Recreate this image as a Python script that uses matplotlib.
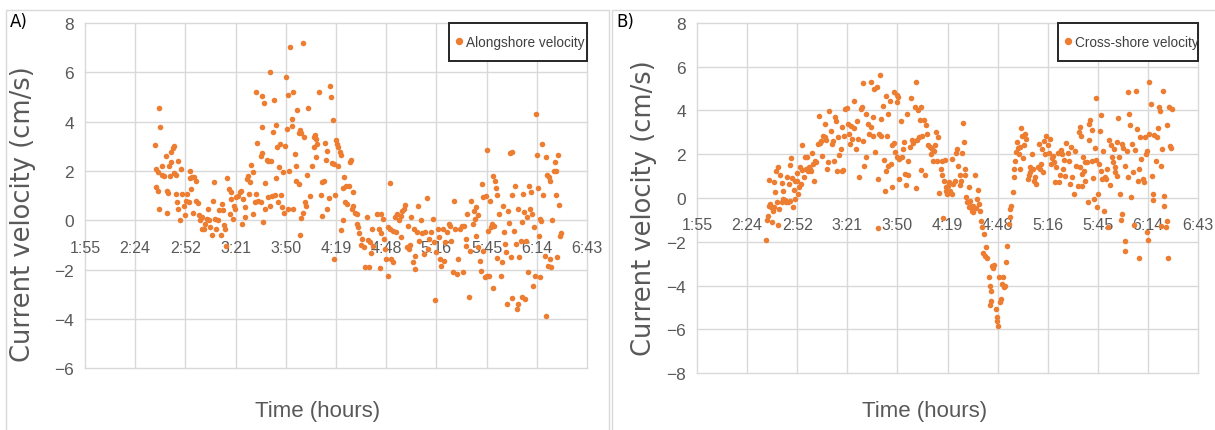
import matplotlib
matplotlib.use('Agg')
import matplotlib.pyplot as plt
from matplotlib.patches import Rectangle

# Time axis in minutes after midnight (Excel ticks every 0.02 day)
time_ticks = [115.2, 144.0, 172.8, 201.6, 230.4, 259.2, 288.0, 316.8, 345.6, 374.4, 403.2]
time_labels = ['1:55', '2:24', '2:52', '3:21', '3:50', '4:19', '4:48', '5:16', '5:45', '6:14', '6:43']
along_yticks = [-6, -4, -2, 0, 2, 4, 6, 8]
cross_yticks = [-8, -6, -4, -2, 0, 2, 4, 6, 8]

# A) alongshore velocity (minutes, cm/s)
along_time = [
    157.4, 158.5, 155.1, 155.9, 156.8, 159.3, 159.5, 160.6, 161.4, 163.3,
    164.3, 165.6, 166.4, 164.8, 164.0, 166.1, 167.3, 168.6, 170.1, 156.0,
    157.0, 157.9, 162.5, 162.9, 162.5, 167.3, 168.0, 168.4, 169.5, 171.1,
    171.9, 172.8, 173.2, 173.8, 174.6, 175.3, 175.7, 176.8, 177.8, 178.7,
    176.0, 177.2, 178.7, 179.9, 180.6, 181.4, 182.2, 182.5, 183.5, 184.2,
    185.0, 185.6, 186.5, 187.1, 187.9, 188.8, 189.4, 190.0, 190.4, 191.5,
    192.3, 193.0, 193.8, 194.4, 195.1, 195.5, 196.1, 196.8, 197.8, 198.7,
    198.4, 199.1, 200.1, 200.6, 201.4, 202.0, 203.0, 203.9, 204.8, 205.0,
    206.0, 207.1, 206.8, 207.9, 208.9, 209.1, 209.9, 211.6, 213.1, 214.0,
    212.5, 211.6, 213.5, 210.6, 214.4,
    216.9, 216.5, 216.0, 216.7, 218.0, 221.2, 223.5, 223.1, 225.0, 225.6,
    226.8, 226.4, 224.5, 220.3, 219.5, 221.8, 218.7, 220.3, 222.6, 224.0,
    221.2, 218.4, 217.5, 216.1, 227.6, 226.1, 228.0, 229.0, 229.5, 230.2,
    231.0, 230.4, 231.7, 232.9, 234.8, 233.7, 234.1, 232.5, 231.4, 234.8,
    235.5, 236.5, 236.0, 237.7, 236.9, 237.7, 238.7, 239.4, 240.3, 240.9,
    238.4, 241.3, 241.9, 240.5, 239.4, 242.8, 243.4, 244.2, 245.2, 246.3,
    247.0, 247.8, 248.2, 246.8, 247.7, 249.3, 250.4, 251.4, 252.2, 251.4,
    253.1, 254.0, 253.3, 254.3, 255.4, 255.9, 256.5, 257.3, 257.1, 258.0,
    258.8, 258.0, 259.3, 259.9, 260.4, 261.3, 260.6, 261.8, 262.3, 263.1,
    263.7, 263.3, 265.0, 264.4, 265.6, 266.9, 267.3, 267.8, 269.0, 269.2,
    268.2, 269.9, 271.1, 271.5, 271.9, 272.3, 273.4, 274.2, 275.1, 275.7,
    276.9, 277.3, 278.2,
    279.7, 278.9, 279.3, 280.5, 282.8, 284.0, 284.9, 285.2, 284.7, 286.3,
    286.6, 287.4, 287.8, 289.2, 290.1, 289.0, 289.9, 290.9, 292.1, 291.7,
    293.0, 293.8, 294.4, 295.5, 296.3, 297.1, 298.0, 298.8, 296.7, 300.2,
    301.0, 301.8, 300.4, 302.5, 303.3, 304.5, 304.0, 304.8, 305.6, 306.4,
    306.9, 307.9, 308.7, 309.5, 310.2, 311.2, 311.8, 312.5, 313.5, 314.7,
    315.3, 315.8, 316.8, 317.6, 318.3, 319.1, 319.5, 320.3, 321.1, 321.9,
    322.8, 323.8, 324.8, 325.3, 326.1, 326.7, 327.3, 328.5, 329.4, 330.2,
    331.2, 331.9, 332.7, 333.5, 334.4, 334.0, 335.7, 336.3, 336.9, 337.7,
    338.5,
    339.3, 338.9, 340.6, 339.8, 340.8, 341.8, 342.2, 343.3, 342.9, 343.7,
    344.5, 345.2, 346.0, 345.6, 346.8, 346.6, 347.5, 347.9, 348.7, 349.1,
    349.4, 350.2, 349.8, 351.0, 351.7, 351.4, 352.9, 353.7, 354.4, 354.8,
    355.8, 356.2, 356.7, 357.7, 358.4, 359.0, 360.2, 359.4, 359.9, 357.5,
    360.0, 361.7, 361.3, 362.3, 362.9, 363.8, 363.4, 364.4, 365.2, 365.8,
    366.3, 365.9, 367.1, 367.7, 368.3, 369.0, 369.6, 370.0, 370.6, 371.3,
    371.7, 372.5, 373.0, 374.0, 374.4, 375.0, 375.4, 373.6, 376.3, 376.3,
    376.9, 377.5, 378.2, 379.0, 379.8, 379.6, 380.5, 381.3, 381.7, 381.1,
    382.1, 382.8, 383.2, 384.0, 384.6, 385.2, 385.6, 386.2, 386.6, 387.3,
    387.5, 388.5,
]
along_vel = [
    4.55, 3.8, 3.05, 2.08, 1.95, 2.2, 1.85, 1.8, 2.6, 2.2,
    2.35, 2.95, 3.0, 2.75, 1.8, 1.9, 1.85, 2.4, 2.1, 1.35,
    1.2, 0.45, 1.2, 1.1, 0.3, 1.08, 0.73, 0.45, 0.03, 1.05,
    0.6, 0.2, 0.8, 1.05, 0.73, 1.7, 2.0, 1.75, 1.75, 1.6,
    1.27, 0.3, 0.8, 0.7, 0.22, 0.0, 0.12, -0.35, -0.35, -0.15,
    0.05, 0.45, 0.0, -0.28, -0.58, 0.8, 1.55, 0.05, -0.35, 0.0,
    0.4, -0.58, 0.66, 0.4, -0.2, -0.35, -1.05, 1.7, 1.27, 1.15,
    0.26, 0.86, 0.05, 0.6, 0.45, 0.93, 1.0, 1.13, 1.2, -0.15,
    0.86, 0.53, 0.12, 1.68, 1.8, 1.07, 1.55, 1.95, 5.2, 3.13,
    0.73, 0.26, 1.05, 2.25, 0.8,
    3.8, 2.73, 2.6, 5.05, 4.75, 6.0, 4.88, 3.6, 3.88, 2.96,
    3.1, 2.15, 1.72, 2.42, 2.46, 2.4, 1.5, 0.93, 1.0, 1.04,
    0.6, 0.46, -0.05, 0.73, 1.04, 0.73, 0.53, 1.95, 0.28, 3.03,
    3.7, 5.82, 5.08, 7.04, 5.22, 3.84, 4.1, 2.0, 0.46, 0.46,
    2.7, 2.2, 1.6, 1.47, 4.49, 3.53, 3.66, 3.54, 7.17, 3.36,
    -0.6, 0.73, 0.57, 0.28, 0.1, 1.85, 4.57, 1.0, 2.2, 3.36,
    3.46, 3.3, 3.1, 2.96, 2.58, 5.22, 1.03, 1.54, 1.6, 0.16,
    3.12, 0.46, 2.45, 2.82, 0.9, 5.43, 5.0, 4.07, 2.32, 2.28,
    1.04, -1.57, 3.26, 3.1, 2.96, 2.76, 2.2, 2.65, -0.4, 0.03,
    1.74, 1.3, 1.4, 0.73, 0.66, 1.4, 2.35, 2.46, 1.14, 0.6,
    0.46, 0.28, -0.15, 0.26, -0.28, -0.51, -1.0, -0.76, -1.1, -1.9,
    0.12, -0.78, -1.9,
    -0.35, -0.86, -1.32, -1.03, 0.26, -0.35, 0.26, -0.51, -1.95, 0.05,
    -0.76, -1.16, -1.57, -2.24, 1.51, -0.28, -0.35, -1.57, -1.7, -0.42,
    0.12, -0.49, 0.26, 0.0, 0.19, 0.39, 0.46, 0.62, -0.69, -1.1,
    -1.16, -1.0, -0.24, 0.15, -1.7, -1.97, -0.35, -1.43, -0.49, 0.6,
    -0.82, 0.03, -0.51, -1.36, -0.49, 0.9, -1.16, -0.76, -0.46, 0.05,
    -0.89, -3.22, -1.3, -0.35, -0.69, -1.57, -1.86, -0.35, -1.63, -0.89,
    -0.49, -0.15, -0.22, -0.82, -2.11, 0.8, -0.35, -2.18, -1.57, -0.35,
    -0.22, -2.08, -0.22, -1.03, 0.26, -0.76, -3.12, -1.23, 0.8, -0.15,
    0.39,
    0.53, 0.05, 0.22, -0.65, -1.1, -1.64, -2.04, -1.23, 1.47, 0.93,
    -2.28, 1.0, 2.86, -2.24, -2.24, -0.42, 0.8, -0.28, -0.15, -2.74,
    1.81, 1.61, -0.22, 1.3, 1.03, -1.54, 0.26, -2.24, -1.7, 0.6,
    -0.49, -0.96, -1.27, 0.39, -0.11, 2.73, 2.76, -1.5, 1.04, -3.39,
    -3.16, 1.4, -0.42, -0.96, -3.59, -3.39, 0.46, -1.5, -0.82, -0.08,
    1.07, -3.12, 0.32, -3.19, -0.82, 0.12, -2.11, 1.4, 0.46, 1.16,
    0.26, -2.65, -0.28, 4.31, 2.66, 1.3, -0.62, -2.24, -2.31, 0.05,
    -0.01, 3.09, 1.04, -1.43, -3.86, 2.55, 1.85, 1.74, 1.61, -1.84,
    -1.57, -1.9, 0.03, 2.01, 2.38, 2.01, 1.04, -1.5, 2.66, 0.62,
    -0.65, -0.51,
]

# B) cross-shore velocity (minutes, cm/s)
cross_time = [
    154.9, 155.4, 156.1, 156.8, 157.4, 158.0, 158.4, 158.8, 159.4, 159.9,
    156.8, 159.4, 160.7, 161.5, 161.9, 161.3, 162.2, 162.8, 163.8, 163.8,
    164.7, 164.9, 165.7, 166.5, 167.0, 167.4, 168.0, 168.4, 168.8, 169.5,
    169.9, 170.3, 170.9, 171.5, 171.8, 172.6, 172.8, 173.0, 173.8, 174.3,
    174.9, 175.5, 175.7, 176.5, 177.2, 177.8, 178.4, 179.0, 179.5, 180.1,
    180.7, 181.4, 181.8, 182.4, 183.0, 183.7, 184.5, 185.3, 185.7, 186.4,
    187.2, 187.8, 188.6, 188.8, 189.5, 190.1, 190.7, 191.0, 192.0, 192.6,
    193.3, 193.9, 194.5, 195.1, 195.8, 196.4, 196.8, 197.8, 198.3, 198.7,
    199.1, 199.7, 200.3, 201.2, 202.0, 202.6, 203.2, 203.7, 204.5, 205.3,
    205.6, 206.4, 207.0, 207.7, 208.3, 209.3, 210.2, 210.6, 211.2, 212.2,
    212.6, 210.8, 213.7, 214.1,
    215.1, 217.0, 218.4, 220.5, 216.5, 216.1, 215.1, 217.6, 219.9, 221.2,
    220.9, 222.2, 224.1, 225.1, 226.0, 224.7, 222.6, 223.7, 225.1, 226.6,
    227.2, 228.5, 229.1, 228.5, 230.0, 230.8, 230.0, 230.4, 231.4, 232.3,
    232.9, 233.6, 234.2, 231.4, 227.2, 223.3, 219.5, 219.1, 234.8, 235.2,
    235.7, 236.3, 236.7, 237.5, 238.0, 238.6, 239.4, 240.3, 240.9, 241.3,
    241.9, 242.4, 242.8, 243.4, 244.1, 243.7, 244.7, 245.5, 246.2, 246.6,
    247.4, 248.1, 248.9, 249.5, 250.4, 251.0, 251.6, 252.0, 252.4, 253.0,
    253.9, 254.3, 255.2, 255.8, 256.2, 256.6, 257.1, 257.5, 258.1, 258.5,
    259.0, 259.6, 260.3, 260.9, 261.5, 261.9, 262.6, 263.4, 264.2, 264.7,
    265.3, 266.1, 266.6, 267.2, 267.6, 268.2, 268.7, 269.1, 269.5, 270.1,
    270.6, 271.4, 271.8, 272.6, 273.3, 274.1, 274.9, 272.2, 273.7, 275.3,
    276.5, 276.1, 277.1, 277.6, 278.4, 279.2, 279.9, 279.6, 280.7, 281.5,
    281.9, 282.8, 283.4, 284.2, 284.7, 285.3, 286.1, 284.3, 283.8, 287.0,
    287.4, 287.8, 288.4, 288.8, 289.3, 289.9, 290.7, 291.1, 291.5, 292.0,
    292.8, 293.4, 294.3, 294.9, 295.3, 295.9, 296.6, 297.2, 297.6, 298.2,
    298.8, 299.1, 299.7, 300.3, 300.7, 301.1, 301.6, 302.0, 302.6, 303.4,
    303.9, 304.5, 305.3, 305.9, 306.4, 306.8, 307.6, 308.4, 309.1, 309.7,
    310.3, 311.0, 311.6, 312.2, 313.0, 313.5, 314.1, 314.9, 315.5, 316.0,
    316.8, 317.4, 318.0, 318.7, 319.3, 319.9, 320.6, 321.2, 321.8, 322.6,
    323.1, 323.7, 324.5, 325.1, 325.6, 326.4, 327.0, 327.6, 328.3, 328.9,
    329.5, 330.2, 330.8, 331.8, 332.7, 333.3, 334.1, 334.8,
    335.3, 335.7, 335.1, 336.3, 336.6, 337.0, 337.6, 338.2, 338.5, 339.5,
    340.1, 340.5, 340.8, 341.4, 342.0, 342.4, 342.7, 343.3, 343.9, 344.3,
    344.8, 345.2, 345.8, 346.2, 346.7, 347.3, 347.7, 348.1, 348.8, 349.2,
    349.6, 350.4, 350.9, 351.5, 352.3, 352.7, 353.2, 353.8, 354.4, 355.0,
    355.3, 355.7, 356.5, 356.9, 357.2, 357.6, 358.2, 358.8, 359.3, 359.7,
    360.3, 361.1, 361.4, 361.0, 362.2, 362.8, 363.1, 363.7, 364.3, 364.7,
    365.2, 366.0, 366.4, 366.8, 367.5, 368.1, 368.7, 369.1, 369.4, 370.0,
    370.6, 371.3, 371.9, 372.5, 373.3, 373.6, 374.0, 374.4, 374.8, 375.2,
    375.9, 376.7, 377.1, 377.4, 378.0, 379.0, 379.5, 380.1, 380.5, 381.1,
    381.7, 382.0, 382.4, 383.2, 383.5, 383.9, 384.7, 385.1, 385.5, 386.0,
    386.6, 387.2, 387.7, 388.1,
]
cross_vel = [
    -1.9, -0.99, -0.84, -0.35, -0.27, -0.43, -1.08, -0.61, -0.43, 0.29,
    0.84, 0.71, 1.22, -1.23, 1.4, -0.2, -0.5, 1.06, 0.67, -0.2,
    0.33, -0.05, -0.08, -0.2, 0.94, -0.2, 0.64, 1.51, -0.12, 1.83,
    0.91, -0.43, 0.37, -0.05, 0.79, 0.79, 1.14, 0.18, 0.52, 1.43,
    0.64, 2.43, 1.28, 0.97, 1.86, 1.32, 1.86, 1.25, 1.4, 1.32,
    1.22, 2.04, 1.55, 0.79, 1.67, 1.63, 2.46, 3.76, 2.49, 2.59,
    1.93, 2.84, 3.38, 2.8, 2.65, 1.32, 1.63, 3.95, 3.04, 2.46,
    2.59, 1.7, 3.71, 3.53, 1.25, 2.77, 1.96, 2.24, 1.25, 3.22,
    1.29, 2.84, 4.06, 4.09, 3.38, 2.92, 2.46, 3.3, 2.69, 3.19,
    4.44, 2.24, 3.53, 2.69, 0.97, 4.06, 4.14, 2.62, 1.48, 3.83,
    1.86, 5.23, 3.38, 2.92,
    5.28, 4.97, 5.05, 5.63, 3.68, 2.84, 3.25, 2.11, 2.92, 2.84,
    3.6, 4.21, 4.67, 3.83, 4.44, 2.84, 1.73, 1.25, 1.48, 1.55,
    2.43, 2.49, 2.08, 4.82, 4.71, 4.62, 4.37, 1.86, 1.78, 3.53,
    1.86, 2.24, 2.54, 0.87, 0.49, 0.33, 0.87, -1.37, 1.1, 0.59,
    3.83, 1.7, 1.07, 2.34, 4.56, 2.65, 2.49, 4.14, 5.28, 0.46,
    2.65, 4.02, 2.77, 3.56, 4.17, 1.28, 2.84, 3.56, 1.07, 3.35,
    2.92, 2.43, 2.34, 2.01, 2.24, 1.67, 2.16, 2.43, 3.0, 1.67,
    2.77, 0.21, 1.32, 1.7, 1.07, -0.91, 0.76, 1.73, 0.49, 0.33,
    0.18, 0.56, 0.71, 0.3, 1.78, 0.18, 0.64, 0.76, 2.04, 2.24,
    1.48, 1.07, 0.61, 0.79, 2.04, 3.41, 2.54, 1.32, 1.07, 0.06,
    -0.2, 0.52, -0.43, -0.35, -0.58, -0.35, 1.07, -0.15, -0.65, -0.45,
    0.37, -0.05, -0.27, -0.58, -1.03, -1.31, -1.64, -2.52, -2.63, -2.25,
    -2.74, -3.59, -4.0, -4.26, -3.09, -3.19, -3.04, -4.68, -4.87, -5.06,
    -5.44, -5.6, -5.86, -3.62, -4.76, -4.61, -3.92, -3.62, -4.08, -4.0,
    -2.94, -2.18, -1.19, -0.88, -0.5, -0.35, 0.26, 0.94, 1.32, 1.67,
    2.08, 2.54, 2.28, 2.01, 2.31, 1.32, 3.19, 2.84, 1.83, 2.43,
    2.92, 2.69, 0.87, 1.07, 1.17, 1.43, 2.01, 1.32, 0.79, 0.94,
    0.64, 1.43, 2.46, 1.32, 1.55, 2.24, 1.17, 2.62, 2.01, 2.84,
    2.43, 2.04, 2.69, 1.55, 1.83, 1.93, 1.63, 0.71, 1.4, 2.04,
    0.71, 1.07, 2.19, 2.01, 1.32, 1.73, 1.02, 2.49, 2.04, 1.67,
    0.64, 2.31, 0.97, 0.18, 2.16, 1.48, 0.56, 3.0,
    3.22, 2.84, 1.4, 0.56, 1.1, 1.89, 1.25, 1.63, 0.79, 1.63,
    -0.2, 3.38, 2.65, 3.56, 3.1, 1.67, 0.91, -0.05, 2.28, 1.73,
    4.56, -0.43, 0.18, 1.55, 3.07, 1.22, 3.79, 0.87, 2.13, -0.58,
    0.97, 0.87, 1.32, -1.34, 2.65, 0.61, 2.43, 1.86, 1.63, 2.24,
    1.17, 1.4, 2.54, 1.02, 3.65, 1.86, 0.18, -1.0, 2.46, -0.73,
    2.28, 1.48, -1.95, -2.43, 2.13, 4.82, 0.94, 3.83, 3.35, 0.06,
    2.46, 1.17, -1.22, 2.19, 4.9, 3.15, 0.76, 1.32, -2.74, 2.8,
    1.78, 0.87, 0.71, 2.77, 2.01, 2.13, -1.57, -1.92, 5.28, 2.92,
    4.29, 1.02, -0.08, 0.18, 2.89, 1.67, 2.77, 3.19, 4.14, 3.98,
    -1.26, 1.48, 2.24, 4.87, 0.11, -0.35, -1.34, -1.03, 3.35, -2.74,
    4.14, 2.39, 2.28, 4.06,
]

ORANGE = '#ED7D31'
GRID = '#d9d9d9'
TEXT = '#595959'
CONDENSED = ['Liberation Sans', 'DejaVu Sans']

W, H = 1215, 431


def px_box(left, top, right, bottom):
    # pixel box -> figure fraction [l, b, w, h]
    return [left / W, 1 - bottom / H, (right - left) / W, (bottom - top) / H]


def add_key(ax, box_left, legend_label):
    # Excel-like legend box in the top right corner (axes fraction)
    box_bottom = 0.89
    ax.add_patch(Rectangle((box_left, box_bottom), 1 - box_left, 1 - box_bottom,
                           transform=ax.transAxes, fill=True, facecolor='white',
                           edgecolor='#262626', linewidth=1.4, clip_on=False, zorder=5))
    mid = (1 + box_bottom) / 2
    ax.plot([box_left + 0.021], [mid + 0.004], marker='o', markersize=4.3, color=ORANGE,
            linestyle='none', transform=ax.transAxes, clip_on=False, zorder=6)
    ax.text(box_left + 0.034, mid, legend_label, transform=ax.transAxes, fontsize=9.8,
            family=CONDENSED, color='#404040', ha='left', va='center', zorder=6)


def draw_panel(fig, box, times, vels, yticks, legend_label, key_left):
    ax = fig.add_axes(box)
    ax.scatter(times, vels, s=16, color=ORANGE, linewidths=0, zorder=3)

    ax.set_xlim(time_ticks[0], time_ticks[-1])
    ax.set_ylim(yticks[0], yticks[-1])
    ax.set_xticks(time_ticks)
    ax.set_xticklabels(time_labels)
    ax.set_yticks(yticks)

    # Excel style: grid only, labels of the time axis sit under the zero line
    for side in ['top', 'right', 'left']:
        ax.spines[side].set_visible(False)
    ax.spines['bottom'].set_position(('data', 0))
    ax.spines['bottom'].set_visible(False)
    ax.grid(True, color=GRID, linewidth=1.0, zorder=0)
    for line in ax.get_xgridlines() + ax.get_ygridlines():
        line.set_clip_on(False)
    ax.set_axisbelow(True)

    ax.tick_params(axis='x', length=0, pad=14, labelsize=11.5, labelcolor=TEXT)
    ax.tick_params(axis='y', length=0, pad=8, labelsize=12.5, labelcolor=TEXT)
    for lab in ax.get_xticklabels() + ax.get_yticklabels():
        lab.set_family(CONDENSED)

    add_key(ax, key_left, legend_label)
    return ax


fig = plt.figure(figsize=(W / 100, H / 100), dpi=100)

# chart area borders
fig.add_artist(Rectangle((6 / W, -0.01), (609 - 6) / W, 1 - 11 / H + 0.01, transform=fig.transFigure,
                         fill=False, edgecolor=GRID, linewidth=1.0))
fig.add_artist(Rectangle((612 / W, -0.01), (W - 612) / W + 0.01, 1 - 11 / H + 0.01, transform=fig.transFigure,
                         fill=False, edgecolor=GRID, linewidth=1.0))

draw_panel(fig, px_box(85, 24, 587, 369.3), along_time, along_vel, along_yticks,
           'Alongshore velocity', 0.725)
draw_panel(fig, px_box(697, 23.7, 1198, 374.3), cross_time, cross_vel, cross_yticks,
           'Cross-shore velocity', 0.72)

# panel letters, axis titles
fig.text(10 / W, 1 - 22 / H, 'A)', fontsize=12, color='black', va='center', ha='left')
fig.text(616 / W, 1 - 22 / H, 'B)', fontsize=12, color='black', va='center', ha='left')
fig.text(23 / W, 1 - 214 / H, 'Current velocity (cm/s)', rotation=90, fontsize=18.5,
         color=TEXT, ha='center', va='center')
fig.text(644 / W, 1 - 208 / H, 'Current velocity (cm/s)', rotation=90, fontsize=18.5,
         color=TEXT, ha='center', va='center')
fig.text(318 / W, 1 - 412 / H, 'Time (hours)', fontsize=16, color=TEXT,
         family=CONDENSED, ha='center', va='center')
fig.text(925 / W, 1 - 412 / H, 'Time (hours)', fontsize=16, color=TEXT,
         family=CONDENSED, ha='center', va='center')

fig.savefig('out.png', dpi=100)
